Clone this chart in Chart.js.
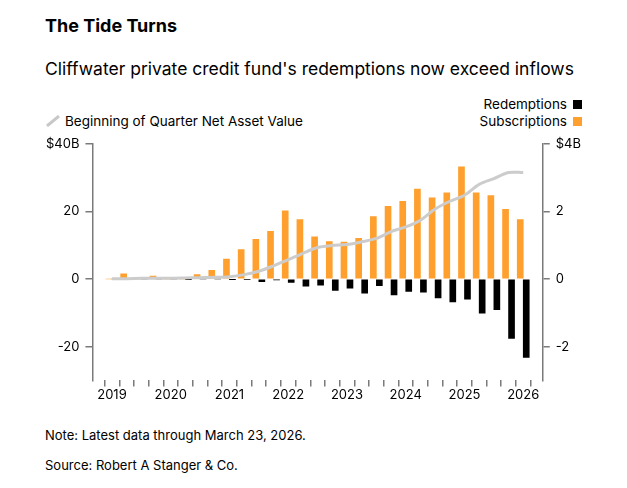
<!DOCTYPE html>
<html><head><meta charset="utf-8">
<script src="https://cdn.jsdelivr.net/npm/chart.js@4"></script>
<style>
  body { margin:0; width:627px; height:488px; background:#fff; font-family:Inter, 'Noto Sans', sans-serif; color:#000; position:relative; overflow:hidden; }
  .t { position:absolute; white-space:nowrap; }
  #wrap { position:absolute; left:0; top:130px; width:627px; height:274px; }
  .sq { display:inline-block; width:9px; height:9px; margin-left:6px; vertical-align:0px; }
</style></head>
<body>
<div class="t" style="left:45px;top:15px;font-size:18px;font-weight:700;">The Tide Turns</div>
<div class="t" style="left:45px;top:58px;font-size:17.5px;">Cliffwater private credit fund's redemptions now exceed inflows</div>
<div class="t" style="right:45px;top:96px;font-size:13.5px;">Redemptions<span class="sq" style="background:#000"></span></div>
<div class="t" style="right:45px;top:113px;font-size:13.5px;">Subscriptions<span class="sq" style="background:#ff9f2d"></span></div>
<div class="t" style="left:45px;top:113px;font-size:13.5px;"><svg width="16" height="12" style="vertical-align:-1px;margin-right:4px"><line x1="2" y1="11" x2="14" y2="1" stroke="#c8c8c8" stroke-width="3"/></svg>Beginning of Quarter Net Asset Value</div>
<div id="wrap"><canvas id="c"></canvas></div>
<div class="t" style="left:45px;top:427px;font-size:13px;">Note: Latest data through March 23, 2026.</div>
<div class="t" style="left:45px;top:457px;font-size:13px;">Source: Robert A Stanger &amp; Co.</div>
<script>
// quarters 2019 Q1 .. 2026 Q1
const quarters = [];
for (let i = 0; i < 29; i++) quarters.push(2019 + i * 0.25);

const subscriptions = [0, 0.15, 0, 0.09, 0, 0, 0.13, 0.26, 0.59, 0.87, 1.17, 1.41, 2.02, 1.76, 1.25, 1.11,
  1.09, 1.20, 1.85, 2.15, 2.30, 2.66, 2.40, 2.55, 3.32, 2.55, 2.47, 2.06, 1.76];
const redemptions = [0, 0, 0, 0, 0, -0.01, 0, 0, -0.01, -0.02, -0.08, -0.03, -0.10, -0.21, -0.18, -0.34,
  -0.27, -0.42, -0.20, -0.47, -0.37, -0.39, -0.56, -0.68, -0.60, -1.01, -0.91, -1.76, -2.32];
const navB = [0.1, 0.1, 0.2, 0.2, 0.2, 0.3, 0.4, 0.5, 0.7, 1.3, 2.3, 3.9, 5.7, 7.6, 9.3, 9.9,
  10.2, 11.0, 12.0, 14.0, 15.4, 17.4, 20.7, 23.0, 24.8, 28.0, 29.7, 31.5, 31.5];
const leftTicks = [40, 20, 0, -20];
const rightTicks = [4, 2, 0, -2];

const pts = arr => arr.map((v, i) => ({ x: quarters[i], y: v }));
const axisColor = '#7a7a7a';
const tickFont = { family: 'Inter', size: 13 };

new Chart(document.getElementById('c'), {
  data: {
    datasets: [
      { type: 'line', data: pts(navB), yAxisID: 'yL', borderColor: '#cccccc', borderWidth: 3, pointRadius: 0, tension: 0.3, order: 0 },
      { type: 'bar', data: pts(subscriptions), yAxisID: 'yR', backgroundColor: '#ff9f2d', barThickness: 6, order: 1 },
      { type: 'bar', data: pts(redemptions), yAxisID: 'yR', backgroundColor: '#000', barThickness: 6, order: 1 }
    ]
  },
  options: {
    responsive: true, maintainAspectRatio: false, animation: false,
    layout: { padding: { left: 40, right: 40, top: 6, bottom: 0 } },
    plugins: { legend: { display: false }, tooltip: { enabled: false } },
    scales: {
      x: {
        type: 'linear', min: 2018.8, max: 2026.2,
        afterBuildTicks: s => { s.ticks = quarters.map(v => ({ value: v })); },
        ticks: { color: '#000', font: tickFont, autoSkip: false, maxRotation: 0, padding: 1,
          callback: v => Number.isInteger(v) ? String(v) : '' },
        grid: { drawOnChartArea: false, tickLength: 6, color: axisColor, lineWidth: 1.5 },
        border: { display: false }
      },
      yL: {
        position: 'left', min: -30, max: 40,
        afterBuildTicks: s => { s.ticks = leftTicks.map(v => ({ value: v })); },
        ticks: { color: '#000', font: tickFont, padding: 6, callback: v => v === 40 ? '$40B' : String(v) },
        grid: { drawOnChartArea: false, tickLength: 7, color: axisColor, lineWidth: 1.5 },
        border: { color: axisColor, width: 1.5 }
      },
      yR: {
        position: 'right', min: -3, max: 4,
        afterBuildTicks: s => { s.ticks = rightTicks.map(v => ({ value: v })); },
        ticks: { color: '#000', font: tickFont, padding: 6, callback: v => v === 4 ? '$4B' : String(v) },
        grid: { drawOnChartArea: false, tickLength: 7, color: axisColor, lineWidth: 1.5 },
        border: { color: axisColor, width: 1.5 }
      }
    }
  }
});
</script>
</body></html>
